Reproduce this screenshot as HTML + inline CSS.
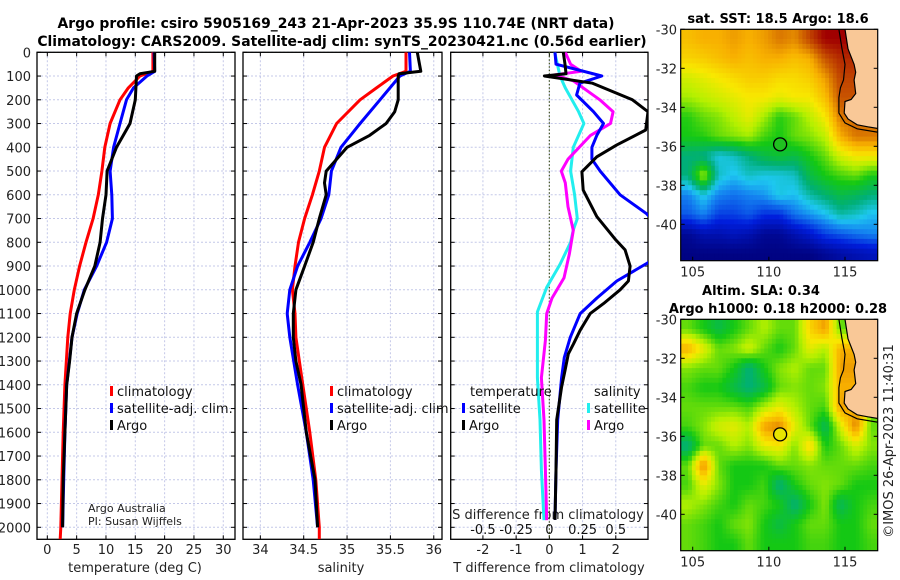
<!DOCTYPE html>
<html><head><meta charset="utf-8"><style>
html,body{margin:0;padding:0;background:#fff;}
svg{display:block;font-family:"DejaVu Sans","Liberation Sans",sans-serif;}
</style></head><body>
<svg id="chart" width="900" height="580" viewBox="0 0 900 580" xmlns="http://www.w3.org/2000/svg">
<defs>
<clipPath id="c1"><rect x="37" y="52.3" width="198" height="487"/></clipPath>
<clipPath id="c2"><rect x="243" y="52.3" width="199" height="487"/></clipPath>
<clipPath id="c3"><rect x="450.7" y="52.3" width="197.3" height="487"/></clipPath>
<clipPath id="cm1"><rect x="680.7" y="29.3" width="197" height="231.4"/></clipPath>
<clipPath id="cm2"><rect x="680.7" y="319.3" width="197" height="231.4"/></clipPath>
</defs>
<text x="336" y="28" font-size="13.9" font-weight="bold" text-anchor="middle">Argo profile: csiro 5905169_243 21-Apr-2023 35.9S 110.74E (NRT data)</text>
<text x="342" y="46" font-size="13.9" font-weight="bold" text-anchor="middle">Climatology: CARS2009. Satellite-adj clim: synTS_20230421.nc (0.56d earlier)</text>
<g id="g"></g>
</svg>
<script>
// ---- profile data: depths and values ----
const tClimDepth = [0,80,100,150,200,300,400,500,600,700,800,900,1000,1100,1200,1400,1600,1800,2000,2050];
const tClimVal   = [18.0,18.0,15.8,13.8,12.4,10.7,9.8,9.3,8.7,7.8,6.6,5.5,4.6,3.9,3.5,3.0,2.7,2.5,2.3,2.2];
const tSatDepth  = [0,80,100,150,200,300,400,500,600,700,800,900,1000,1100,1200,1400,1600,1800,2000];
const tSatVal    = [18.2,18.3,17.0,14.7,13.5,12.4,11.3,10.7,11.0,11.1,10.1,8.4,6.3,5.1,4.2,3.3,3.0,2.8,2.6];
const tArgoDepth = [0,80,90,100,150,200,300,400,500,600,700,800,900,1000,1100,1200,1300,1400,1600,1800,2000];
const tArgoVal   = [18.3,18.3,15.8,15.2,15.1,15.0,14.1,11.8,10.2,10.0,9.4,9.0,8.1,6.4,5.0,4.2,3.8,3.3,3.0,2.7,2.6];
const sClimDepth = [0,80,100,150,200,300,400,500,600,700,800,900,1000,1100,1200,1400,1600,1800,2000,2050];
const sClimVal   = [35.68,35.68,35.53,35.34,35.15,34.88,34.74,34.68,34.6,34.51,34.44,34.4,34.37,34.4,34.41,34.49,34.57,34.64,34.68,34.68];
const sSatDepth  = [0,80,100,200,300,400,500,600,700,800,900,1000,1100,1200,1400,1600,1800,2000];
const sSatVal    = [35.72,35.73,35.61,35.38,35.15,34.93,34.82,34.79,34.70,34.57,34.43,34.34,34.31,34.34,34.43,34.53,34.61,34.66];
const sArgoDepth = [0,80,90,100,200,250,300,350,400,450,500,550,600,700,800,900,1000,1100,1200,1300,1400,1500,1600,1800,2000];
const sArgoVal   = [35.81,35.85,35.6,35.59,35.59,35.55,35.45,35.26,35.0,34.88,34.76,34.74,34.76,34.68,34.61,34.51,34.41,34.38,34.38,34.41,34.47,34.5,34.53,34.63,34.66];
// ---- difference data ----
const dTArgoDepth = [0,50,90,100,130,200,250,327,390,440,503,580,692,790,832,900,963,1000,1058,1100,1170,1227,1270,1340,1409,1548,1759,1969];
const dTArgoVal   = [0.42,0.47,0.5,-0.15,1.3,2.5,2.97,2.9,2.03,1.43,0.98,1.02,1.43,2.0,2.28,2.43,2.38,2.13,1.63,1.23,0.93,0.73,0.57,0.47,0.37,0.22,0.2,0.17];
const dTSatDepth  = [0,50,100,130,180,250,300,350,400,450,500,600,680,780,885,963,1035,1100,1200,1285,1370,1548,1759,1969];
const dTSatVal    = [0.17,0.2,1.58,0.92,0.82,1.33,1.63,1.43,1.28,1.28,1.53,2.13,2.93,3.6,2.98,2.03,1.43,0.93,0.63,0.45,0.37,0.25,0.2,0.17];
const dSSatDepth  = [0,100,150,250,300,400,500,600,700,748,800,893,990,1093,1213,1370,1548,1759,1970];
const dSSatVal    = [0.04,0.08,0.12,0.22,0.26,0.18,0.16,0.19,0.21,0.18,0.16,0.08,-0.02,-0.09,-0.09,-0.09,-0.07,-0.06,-0.04];
const dSArgoDepth = [0,50,80,95,120,200,250,300,350,450,500,550,650,750,850,950,1035,1100,1213,1370,1548,1759,1970];
const dSArgoVal   = [0.12,0.16,0.24,0.04,0.18,0.38,0.48,0.46,0.31,0.14,0.09,0.12,0.14,0.18,0.15,0.11,0.02,-0.02,-0.03,-0.06,-0.04,-0.03,-0.02];
// ---- axis ticks ----
const depthTicks = [0,100,200,300,400,500,600,700,800,900,1000,1100,1200,1300,1400,1500,1600,1700,1800,1900,2000];
const tempTicks = [0,5,10,15,20,25,30];
const salTicks = [34,34.5,35,35.5,36];
const dTTicks = [-2,-1,0,1,2];
const dSTicks = [-0.5,-0.25,0,0.25,0.5];
const lonTicks = [105,110,115];
const latTicks = [-30,-32,-34,-36,-38,-40];
// ---- map grids (colormap index 0..1, -1 = land), rows lat -30..-42, cols lon 104.2..117.2 ----
const sstGrid = [
[.78,.8,.8,.82,.8,.82,.86,.84,.92,1,1,-1,-1],
[.75,.76,.78,.8,.78,.8,.8,.78,.8,.9,.95,-1,-1],
[.68,.7,.72,.74,.76,.76,.74,.74,.76,.82,.92,-1,-1],
[.64,.66,.68,.7,.72,.72,.7,.72,.72,.78,.9,-1,-1],
[.56,.6,.62,.66,.7,.64,.56,.6,.66,.72,.86,.88,-1],
[.55,.56,.6,.62,.64,.58,.55,.6,.62,.66,.8,.86,.86],
[.45,.44,.38,.4,.45,.5,.52,.5,.55,.6,.68,.72,.72],
[.45,.65,.4,.36,.4,.38,.38,.4,.5,.55,.58,.6,.55],
[.3,.38,.3,.28,.3,.32,.38,.36,.42,.46,.5,.48,.45],
[.25,.3,.22,.22,.25,.2,.2,.28,.32,.36,.42,.4,.36],
[.05,.1,.1,.12,.1,.05,.05,.1,.15,.22,.25,.28,.3],
[.02,.02,.02,.02,.02,.02,.02,.02,.02,.05,.08,.1,.12]];
const slaGrid = [
[.6,.55,.5,.55,.6,.65,.6,.6,.75,.82,.6,-1,-1],
[.8,.7,.6,.62,.68,.6,.55,.6,.7,.65,.8,-1,-1],
[.62,.6,.6,.55,.45,.55,.62,.65,.6,.6,.82,-1,-1],
[.58,.55,.55,.5,.45,.5,.6,.62,.6,.62,.8,-1,-1],
[.6,.6,.6,.6,.58,.65,.7,.65,.6,.58,.82,.8,-1],
[.58,.62,.68,.7,.65,.82,.85,.7,.6,.48,.68,.85,.6],
[.45,.6,.6,.65,.62,.7,.72,.62,.75,.55,.6,.68,.62],
[.6,.85,.6,.55,.55,.55,.6,.6,.62,.6,.6,.6,.58],
[.58,.7,.62,.55,.55,.58,.45,.55,.6,.62,.6,.55,.55],
[.65,.62,.58,.55,.6,.58,.55,.45,.55,.62,.48,.55,.58],
[.6,.58,.55,.6,.62,.55,.5,.55,.6,.6,.55,.55,.6],
[.6,.58,.55,.55,.6,.55,.55,.55,.58,.58,.55,.55,.58]];
const coastLon = [115.0,115.2,115.6,115.7,115.6,115.7,115.4,115.0,114.95,115.2,115.8,116.5,117.3];
const coastLat = [-30,-31,-31.8,-32.2,-32.6,-33.3,-33.6,-33.7,-34.3,-34.6,-34.9,-35.0,-35.1];
const shelfLon = [114.6,114.8,115.0,114.9,114.7,114.6,114.6,115.0,115.8,117.3];
const shelfLat = [-30,-31,-31.8,-32.6,-33.0,-33.5,-34.3,-34.8,-35.1,-35.3];
const argoLon = 110.74, argoLat = -35.9;

const NS='http://www.w3.org/2000/svg';
const G=document.getElementById('g');
function mk(tag,attrs,parent){const e=document.createElementNS(NS,tag);for(const k in attrs)e.setAttribute(k,attrs[k]);(parent||G).appendChild(e);return e;}
const Y0=52.3, YB=539.3, DPX=0.2375;
const yD=d=>Y0+d*DPX;
const panels=[
 {x0:37,x1:235,vmin:-1.76,vmax:32.0,clip:'c1'},
 {x0:243,x1:442,vmin:33.8,vmax:36.095,clip:'c2'},
 {x0:450.7,x1:648,vmin:-2.97,vmax:2.97,clip:'c3'}];
const xS=(p,v)=>p.x0+(v-p.vmin)/(p.vmax-p.vmin)*(p.x1-p.x0);

function gridAndFrame(p,xt,idx){
 const g=mk('g',{});
 
 
 depthTicks.forEach(d=>{mk('line',{x1:p.x0,x2:p.x1,y1:yD(d),y2:yD(d),stroke:'#c4c8e8','stroke-width':1,'stroke-dasharray':'2,2'},g);
  mk('line',{x1:p.x0,x2:p.x0+4,y1:yD(d),y2:yD(d),stroke:'#000'},g);
  mk('line',{x1:p.x1-4,x2:p.x1,y1:yD(d),y2:yD(d),stroke:'#000'},g);});
 xt.forEach(v=>{const x=xS(p,v);mk('line',{x1:x,x2:x,y1:Y0,y2:YB,stroke:'#c4c8e8','stroke-width':1,'stroke-dasharray':'2,2'},g);
  mk('line',{x1:x,x2:x,y1:YB-4,y2:YB,stroke:'#000'},g);mk('line',{x1:x,x2:x,y1:Y0,y2:Y0+4,stroke:'#000'},g);});
 const r=mk('rect',{x:p.x0,y:Y0,width:p.x1-p.x0,height:YB-Y0,fill:'none',stroke:'#000','stroke-width':1.3});
 
 
}
gridAndFrame(panels[0],tempTicks,1);gridAndFrame(panels[1],salTicks,2);gridAndFrame(panels[2],dTTicks,3);

depthTicks.forEach(d=>{const t=mk('text',{x:31,y:yD(d)+5,'font-size':13,'text-anchor':'end',fill:'#222'});t.textContent=d;
 
 });
function xLabels(p,ticks,y,fs){ticks.forEach(v=>{const t=mk('text',{x:xS(p,v),y:y,'font-size':fs,'text-anchor':'middle',fill:'#222'});t.textContent=v;
 
 });}
xLabels(panels[0],tempTicks,554,13);xLabels(panels[1],salTicks,554,13);xLabels(panels[2],dTTicks,554,13);
dSTicks.forEach(v=>{const t=mk('text',{x:xS(panels[2],v*4),y:534,'font-size':13,'text-anchor':'middle',fill:'#111'});t.textContent=v;
 
 });
function label(txt,x,y,fs,name,anchor,extra){const t=mk('text',Object.assign({x:x,y:y,'font-size':fs,'text-anchor':anchor||'middle',fill:'#222'},extra||{}));t.textContent=txt;
 
 return t;}
label('temperature (deg C)',135,572,13,'x-axis-title-temperature');
label('salinity',341,572,13,'x-axis-title-salinity');
label('T difference from climatology',549,572,13,'x-axis-title-t-difference');
label('S difference from climatology',548,519,13,'s-difference-axis-title');
label('Argo Australia',88,512,11,'credit-argo-australia','start');
label('PI: Susan Wijffels',88,525,11,'credit-pi','start');

mk('line',{x1:xS(panels[2],0),x2:xS(panels[2],0),y1:Y0,y2:YB,stroke:'#445522','stroke-width':1.2,'stroke-dasharray':'1.5,2'});

function profile(p,dep,val,color,name,scale){
 const pts=dep.map((d,i)=>xS(p,val[i]*(scale||1)).toFixed(1)+','+yD(d).toFixed(1)).join(' ');
 const e=mk('polyline',{points:pts,fill:'none',stroke:color,'stroke-width':3,'stroke-linejoin':'round','clip-path':'url(#'+p.clip+')'});
 
 
}
profile(panels[0],tClimDepth,tClimVal,'#ff0000','temp-climatology-line');
profile(panels[0],tSatDepth,tSatVal,'#0000ff','temp-satellite-line');
profile(panels[0],tArgoDepth,tArgoVal,'#000','temp-argo-line');
profile(panels[1],sClimDepth,sClimVal,'#ff0000','sal-climatology-line');
profile(panels[1],sSatDepth,sSatVal,'#0000ff','sal-satellite-line');
profile(panels[1],sArgoDepth,sArgoVal,'#000','sal-argo-line');
profile(panels[2],dSSatDepth,dSSatVal,'#22eeee','s-diff-satellite-line',4);
profile(panels[2],dSArgoDepth,dSArgoVal,'#ff00ff','s-diff-argo-line',4);
profile(panels[2],dTSatDepth,dTSatVal,'#0000ff','t-diff-satellite-line');
profile(panels[2],dTArgoDepth,dTArgoVal,'#000','t-diff-argo-line');

function legendEntry(x,y,color,txt){const g=mk('g',{});
 
 
 mk('rect',{x:x,y:y-10,width:3,height:10,fill:color},g);
 const t=mk('text',{x:x+7,y:y,'font-size':13,fill:'#111'},g);t.textContent=txt;}
[[110,'#ff0000','climatology'],[110,'#0000ff','satellite-adj. clim.'],[110,'#000','Argo']].forEach((e,i)=>legendEntry(e[0],396+i*17,e[1],e[2]));
[[330,'#ff0000','climatology'],[330,'#0000ff','satellite-adj. clim.'],[330,'#000','Argo']].forEach((e,i)=>legendEntry(e[0],396+i*17,e[1],e[2]));
label('temperature',470,396,13,'legend-title-temperature','start',{fill:'#111'});
label('salinity',594,396,13,'legend-title-salinity','start',{fill:'#111'});
legendEntry(462,413,'#0000ff','satellite');legendEntry(462,430,'#000','Argo');
legendEntry(587,413,'#22eeee','satellite');legendEntry(587,430,'#ff00ff','Argo');

// ---- maps ----
const stops=[[0,[0,0,120]],[0.18,[0,30,220]],[0.3,[20,130,240]],[0.37,[30,200,240]],[0.45,[0,175,120]],[0.55,[20,200,20]],[0.65,[180,240,0]],[0.72,[248,232,0]],[0.8,[248,176,0]],[0.88,[208,100,0]],[1,[160,0,0]]];
function cmap(v){for(let i=1;i<stops.length;i++){if(v<=stops[i][0]){const a=stops[i-1],b=stops[i],f=(v-a[0])/(b[0]-a[0]);
 const c=a[1].map((q,k)=>Math.round(q+(b[1][k]-q)*f));return 'rgb('+c.join(',')+')';}}return 'rgb(160,0,0)';}
function sample(grid,lon,lat){
 const nr=grid.length,nc=grid[0].length;
 let fc=Math.min(Math.max(lon-104.7,0),nc-1), fr=Math.min(Math.max(-30.5-lat,0),nr-1);
 const c0=Math.floor(fc),r0=Math.floor(fr),c1=Math.min(c0+1,nc-1),r1=Math.min(r0+1,nr-1);
 const u=fc-c0,w=fr-r0;
 const pts=[[r0,c0,(1-u)*(1-w)],[r0,c1,u*(1-w)],[r1,c0,(1-u)*w],[r1,c1,u*w]];
 let s=0,ws=0;pts.forEach(p=>{const v=grid[p[0]][p[1]];if(v>=0){s+=v*p[2];ws+=p[2];}});
 return ws>0?s/ws:-1;
}
const mLon=lon=>692.7+(lon-105)*15.23;
function drawMap(grid,ytop,clip,name,circleFill){
 const mLat=lat=>ytop+(-30-lat)*19.5;
 const g=mk('g',{'clip-path':'url(#'+clip+')'});
 
 
 const step=0.25;
 for(let lat=-30;lat>-42;lat-=step){for(let lon=104.2;lon<117.3;lon+=step){
  const v=sample(grid,lon+step/2,lat-step/2);
  const e=mk('rect',{x:mLon(lon).toFixed(1),y:mLat(lat).toFixed(1),width:(15.23*step+0.6).toFixed(2),height:(19.5*step+0.6).toFixed(2),fill:v<0?'#f9c897':cmap(v)},g);
  
  
 }}
 const lp=coastLon.map((l,i)=>mLon(l).toFixed(1)+','+mLat(coastLat[i]).toFixed(1)).join(' ')+' '+mLon(118)+','+mLat(-35.1)+' '+mLon(118)+','+mLat(-29);
 const land=mk('polygon',{points:lp,fill:'#f9c897'},g);
 
 
 mk('polyline',{points:coastLon.map((l,i)=>mLon(l).toFixed(1)+','+mLat(coastLat[i]).toFixed(1)).join(' '),fill:'none',stroke:'#000','stroke-width':1.2},g);
 mk('polyline',{points:shelfLon.map((l,i)=>mLon(l).toFixed(1)+','+mLat(shelfLat[i]).toFixed(1)).join(' '),fill:'none',stroke:'#000','stroke-width':1.2},g);
 const ci=mk('circle',{cx:mLon(argoLon),cy:mLat(argoLat),r:6.5,fill:circleFill,stroke:'#000','stroke-width':1.3});
 
 
 const fr=mk('rect',{x:680.7,y:ytop,width:197,height:231.4,fill:'none',stroke:'#000','stroke-width':1.2});
 
 
 latTicks.forEach(l=>{const y=mLat(l);
  mk('line',{x1:680.7,x2:684.7,y1:y,y2:y,stroke:'#000'});mk('line',{x1:873.7,x2:877.7,y1:y,y2:y,stroke:'#000'});
  const t=mk('text',{x:677,y:y+5,'font-size':13,'text-anchor':'end',fill:'#222'});t.textContent=l;
  
  });
 lonTicks.forEach(l=>{const x=mLon(l);
  mk('line',{x1:x,x2:x,y1:ytop+231.4-4,y2:ytop+231.4,stroke:'#000'});
  const t=mk('text',{x:x,y:ytop+247,'font-size':13,'text-anchor':'middle',fill:'#222'});t.textContent=l;
  
  });
}
drawMap(sstGrid,29.3,'cm1','sst-map','#20c020');
drawMap(slaGrid,319.3,'cm2','sla-map','#e8e400');
label('sat. SST: 18.5 Argo: 18.6',778,23,13,'sst-map-title','middle',{'font-weight':'bold',fill:'#000'});
label('Altim. SLA: 0.34',761,295,13,'sla-map-title','middle',{'font-weight':'bold',fill:'#000'});
label('Argo h1000: 0.18 h2000: 0.28',778,313,13,'sla-map-subtitle','middle',{'font-weight':'bold',fill:'#000'});
label('©IMOS 26-Apr-2023 11:40:31',0,0,13,'imos-timestamp','middle',{transform:'translate(893,441) rotate(-90)'});
</script>
</body></html>
